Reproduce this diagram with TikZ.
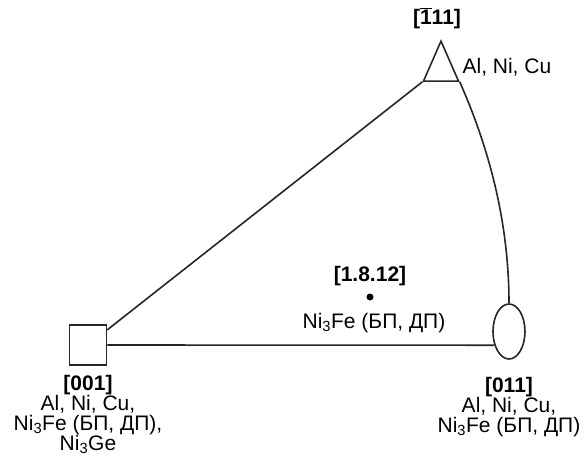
\documentclass[tikz,border=0pt]{standalone}
\usepackage{fontspec}
\setmainfont{Liberation Sans}
\usetikzlibrary{positioning,shapes.geometric,calc}
\tikzset{
  pf/pole/.style={draw, line width=1.6pt, draw=black!85, inner sep=0pt},
  pf/square/.style={pf/pole, rectangle, minimum width=37pt, minimum height=40pt},
  pf/oval/.style={pf/pole, ellipse, minimum width=32pt, minimum height=55pt},
  pf/tri/.style={pf/pole, isosceles triangle, shape border rotate=90, isosceles triangle stretches, minimum width=35pt, minimum height=40pt},
  pf/line/.style={line width=1.6pt, draw=black!85},
  pf/dot/.style={circle, fill=black, inner sep=0pt, minimum size=7pt},
  pf/label/.style={font=\fontsize{21}{20}\selectfont, align=center, inner sep=0pt},
  pf/idx/.style={pf/label, font=\fontsize{21}{20}\selectfont\bfseries}
}
\newcommand{\ithree}{\textsubscript{3}}

\begin{document}
\begin{tikzpicture}[x=1pt, y=-1pt]
  \useasboundingbox (0,0) rectangle (584,467);
  % poles of the stereographic triangle
  \node[pf/square] (p001) at (88,345) {};
  \node[pf/oval] (p011) at (509,331.5) {};
  \node[pf/tri, anchor=apex] (p111) at (441,39) {};

  \draw[pf/line] (p001) -- (p111.left corner);
  \draw[pf/line] (p001.east) -- (p011.223);
  \draw[pf/line] (p111.right corner) .. controls +(32,72) and +(0,-75) .. (p011.north);

  % inner point
  \node[pf/dot] (p1812) at (370,297) {};
  \node[pf/idx, above=7pt of p1812] (l1812) {[1.8.12]};
  \node[pf/label, below=12pt of p1812, xshift=4pt] (m1812) {Ni\ithree Fe (БП, ДП)};

  % labels
  \node[pf/idx, above=10pt of p111.apex, xshift=-4pt] (l111) {[$\overline{\mbox{1}}$11]};
  \node[pf/label, right=8pt of p111, yshift=2pt] (m111) {Al, Ni, Cu};
  \node[pf/label, below=9pt of p001] (l001) {{\bfseries [001]}\\Al, Ni, Cu,\\Ni\ithree Fe (БП, ДП),\\Ni\ithree Ge};
  \node[pf/label, below=17pt of p011] (l011) {{\bfseries [011]}\\Al, Ni, Cu,\\Ni\ithree Fe (БП, ДП)};
\end{tikzpicture}
\end{document}
